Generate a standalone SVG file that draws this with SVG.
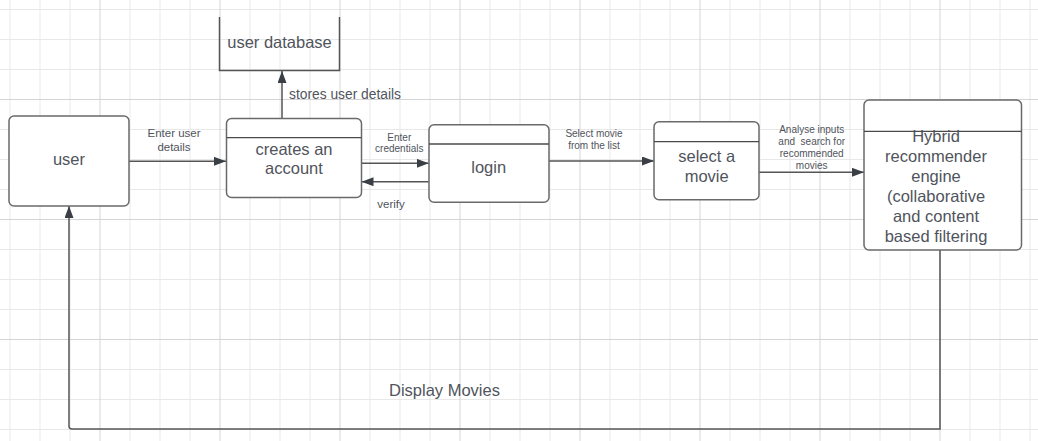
<svg xmlns="http://www.w3.org/2000/svg" width="1038" height="441" viewBox="0 0 1038 441">
<defs>
<pattern id="grid" patternUnits="userSpaceOnUse" x="-20.5" y="-21" width="120" height="120">
<path d="M30.5,0V120M60.5,0V120M90.5,0V120M0,30.5H120M0,60.5H120M0,90.5H120" stroke="#e8e8e8" stroke-width="1" fill="none"/>
<path d="M0.5,0V120M0,0.5H120" stroke="#d4d4d4" stroke-width="1" fill="none"/>
</pattern>
<marker id="arr" markerUnits="userSpaceOnUse" markerWidth="13" markerHeight="10" refX="12" refY="4.5" orient="auto">
<path d="M0,0L12,4.5L0,9z" fill="#3a3f45"/>
</marker>
<style>
.box{fill:#fff;stroke:#6a6a6a;stroke-width:1.5}
.div{stroke:#4a4a4a;stroke-width:1.3}
.t{font-family:"Liberation Sans",Arial,sans-serif;fill:#50545c;text-anchor:middle}
.start{text-anchor:start}
.pre{white-space:pre}
.big{font-size:16.5px}
.lbl{font-size:10px}
.mid{font-size:11.5px}
.con{fill:none;stroke:#555;stroke-width:1.5}
</style>
</defs>
<rect width="1038" height="441" fill="#fff"/>
<rect width="1038" height="441" fill="url(#grid)"/>

<g id="connectors">
<path class="con" d="M129,161.3H226" marker-end="url(#arr)"/>
<path class="con" d="M282,118.5V71" marker-end="url(#arr)"/>
<path class="con" d="M361.5,163.3H428.7" marker-end="url(#arr)"/>
<path class="con" d="M428.7,181.7H361.5" marker-end="url(#arr)"/>
<path class="con" d="M549,161H654" marker-end="url(#arr)"/>
<path class="con" d="M759,172.3H864" marker-end="url(#arr)"/>
<path class="con" d="M940,250V429H72Q69,429 69,426V206" marker-end="url(#arr)"/>
<text class="t mid" x="174" y="136.5">Enter user</text>
<text class="t mid" x="174" y="150.5">details</text>
<text class="t start" style="font-size:13.8px" x="289" y="99.3">stores user details</text>
<text class="t lbl" x="399.3" y="141">Enter</text>
<text class="t lbl" x="399.3" y="152">credentials</text>
<text class="t mid" x="391" y="208">verify</text>
<text class="t lbl" x="594" y="137">Select movie</text>
<text class="t lbl" x="594" y="149">from the list</text>
<text class="t lbl" x="811.7" y="133">Analyse inputs</text>
<text class="t lbl pre" x="811.7" y="145" xml:space="preserve">and  search for</text>
<text class="t lbl" x="811.7" y="157">recommended</text>
<text class="t lbl" x="811.7" y="169">movies</text>
<text class="t big" x="444.5" y="396">Display Movies</text>
</g>

<g id="user">
<rect class="box" x="9" y="116" width="120" height="90" rx="5"/>
<text class="t big" x="69" y="164.5">user</text>
</g>

<g id="user-database">
<path d="M219.5,17V70.5H339.5V17" fill="none" stroke="#555" stroke-width="1.5"/>
<text class="t big" x="279.5" y="47.5">user database</text>
</g>

<g id="creates-account">
<rect class="box" x="226.5" y="118.5" width="135" height="79" rx="5"/>
<line class="div" x1="226.5" y1="137.7" x2="361.5" y2="137.7"/>
<text class="t big" x="294" y="155.3">creates an</text>
<text class="t big" x="294" y="174.3">account</text>
</g>

<g id="login">
<rect class="box" x="429" y="124.7" width="120" height="77.6" rx="5"/>
<line class="div" x1="429" y1="144" x2="549" y2="144"/>
<text class="t big" x="488.7" y="172.5">login</text>
</g>

<g id="select-movie">
<rect class="box" x="654" y="121.7" width="105" height="78" rx="5"/>
<line class="div" x1="654" y1="141.7" x2="759" y2="141.7"/>
<text class="t big" x="706.7" y="161.7">select a</text>
<text class="t big" x="706.7" y="181.7">movie</text>
</g>

<g id="hybrid-engine">
<rect class="box" x="864" y="100" width="157.5" height="150" rx="5"/>
<line class="div" x1="864" y1="131.3" x2="1021.5" y2="131.3"/>
<text class="t big" x="936" y="142.3">Hybrid</text>
<text class="t big" x="936" y="162.3">recommender</text>
<text class="t big" x="936" y="182.3">engine</text>
<text class="t big" x="936" y="202.3">(collaborative</text>
<text class="t big" x="936" y="222.3">and content</text>
<text class="t big" x="936" y="242.3">based filtering</text>
</g>
</svg>
